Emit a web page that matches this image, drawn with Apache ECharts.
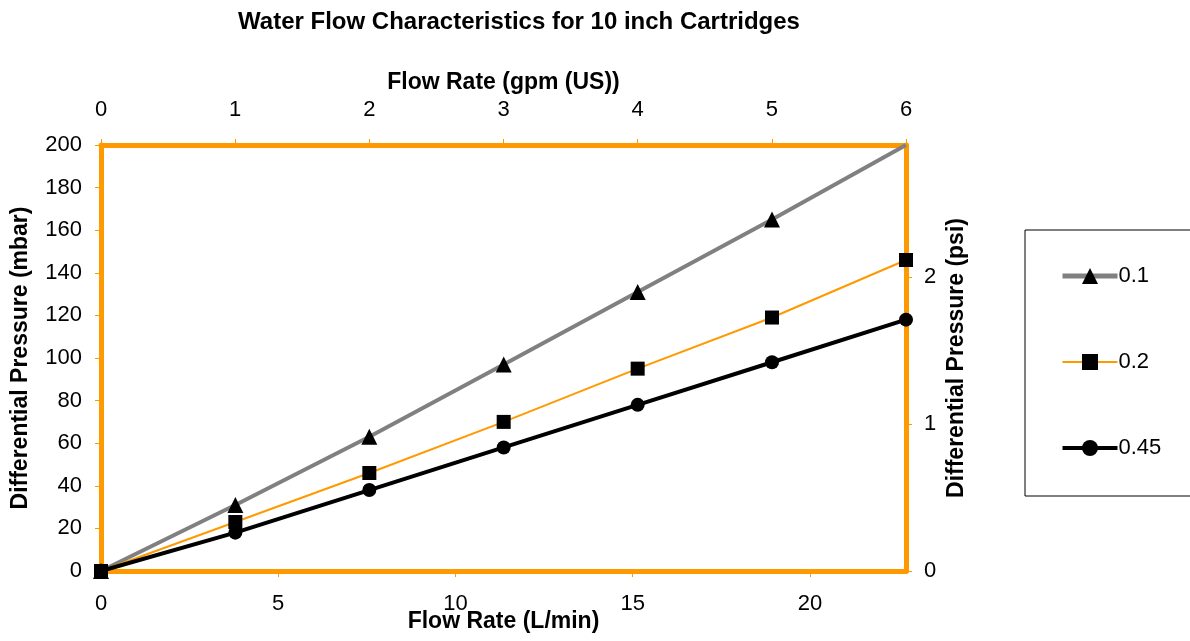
<!DOCTYPE html>
<html><head><meta charset="utf-8">
<script src="https://cdn.jsdelivr.net/npm/echarts@6/dist/echarts.min.js"></script>
<style>html,body{margin:0;padding:0;background:#fff}#c{width:1190px;height:641px}</style>
</head><body><div id="c"></div>
<script>
// Flow rate (L/min) for each measured point; 6 gpm (US) = 22.71 L/min
const flowLmin = [0, 3.79, 7.57, 11.36, 15.14, 18.93, 22.71];
const seriesNames = ['0.1', '0.2', '0.45'];
const dp01 = [0, 31, 63, 97, 131, 165, 200];
const dp02 = [0, 23, 46, 70, 95, 119, 146];
const dp045 = [0, 18, 38, 58, 78, 98, 118];
const LMIN_PER_GPM = 3.785;
const MBAR_PER_PSI = 68.948;
const xMaxLmin = 22.71;
const yMaxMbar = 200;

const ORANGE = '#FF9900';
const GRAY = '#808080';
const FONT = 'Liberation Sans, Arial, sans-serif';
const pairs = v => flowLmin.map((x, i) => [x, v[i]]);
// markers sitting exactly on the plot's top edge are clipped away (as in the original)
const markerSize = s => (val => (val[1] >= yMaxMbar ? 0 : s));

const axisCommon = {
  axisLine: {show: true, onZero: false, lineStyle: {color: ORANGE, width: 5}},
  axisTick: {show: true, inside: false, length: 6, lineStyle: {color: ORANGE, width: 1}},
  splitLine: {show: false},
  nameMoveOverlap: false,
  axisLabel: {color: '#000', fontSize: 22, fontFamily: FONT},
  nameTextStyle: {color: '#000', fontSize: 23, fontWeight: 'bold', fontFamily: FONT}
};

const chart = echarts.init(document.getElementById('c'), null, {renderer: 'canvas'});
chart.setOption({
  animation: false,
  backgroundColor: '#fff',
  title: {
    text: 'Water Flow Characteristics for 10 inch Cartridges',
    left: 514, top: 5, textAlign: 'center',
    textStyle: {fontSize: 24, fontWeight: 'bold', color: '#000', fontFamily: FONT}
  },
  grid: {left: 101, right: 284, top: 145, bottom: 70, containLabel: false, outerBoundsMode: 'none'},
  xAxis: [
    Object.assign({}, axisCommon, {
      type: 'value', position: 'bottom', min: 0, max: xMaxLmin, interval: 5,
      name: 'Flow Rate (L/min)', nameLocation: 'middle', nameGap: 39,
      axisLabel: Object.assign({}, axisCommon.axisLabel, {margin: 22, showMaxLabel: false})
    }),
    Object.assign({}, axisCommon, {
      type: 'value', position: 'top', min: 0, max: xMaxLmin / LMIN_PER_GPM, interval: 1,
      name: 'Flow Rate (gpm (US))', nameLocation: 'middle', nameGap: 51,
      axisLabel: Object.assign({}, axisCommon.axisLabel, {margin: 24, formatter: v => Math.round(v)})
    })
  ],
  yAxis: [
    Object.assign({}, axisCommon, {
      type: 'value', position: 'left', min: 0, max: yMaxMbar, interval: 20,
      name: 'Differential Pressure (mbar)', nameLocation: 'middle', nameGap: 69,
      axisLabel: Object.assign({}, axisCommon.axisLabel, {margin: 19})
    }),
    Object.assign({}, axisCommon, {
      type: 'value', position: 'right', min: 0, max: yMaxMbar / MBAR_PER_PSI, interval: 1,
      name: 'Differential Pressure (psi)', nameLocation: 'middle', nameGap: 39,
      axisLabel: Object.assign({}, axisCommon.axisLabel, {margin: 18, showMaxLabel: false})
    })
  ],
  legend: {
    orient: 'vertical', left: 1025, top: 230,
    padding: [35, 90, 37, 35],
    borderColor: '#000', borderWidth: 1,
    itemWidth: 55, itemHeight: 20, itemGap: 64,
    textStyle: {fontSize: 22, color: '#000', fontFamily: FONT, padding: [0, 0, 0, -4]},
    data: [
      {name: seriesNames[0], lineStyle: {color: GRAY, width: 5}},
      {name: seriesNames[1], lineStyle: {color: ORANGE, width: 2}},
      {name: seriesNames[2], lineStyle: {color: '#000', width: 4}}
    ]
  },
  series: [
    {name: seriesNames[0], type: 'line', data: pairs(dp01), xAxisIndex: 0, yAxisIndex: 0,
     symbol: 'triangle', symbolSize: markerSize(16), z: 3,
     lineStyle: {color: GRAY, width: 4}, itemStyle: {color: '#000'}},
    {name: seriesNames[1], type: 'line', data: pairs(dp02), xAxisIndex: 0, yAxisIndex: 0,
     symbol: 'rect', symbolSize: markerSize(14), z: 4,
     lineStyle: {color: ORANGE, width: 2}, itemStyle: {color: '#000'}},
    {name: seriesNames[2], type: 'line', data: pairs(dp045), xAxisIndex: 0, yAxisIndex: 0,
     symbol: 'circle', symbolSize: markerSize(14), z: 5,
     lineStyle: {color: '#000', width: 4}, itemStyle: {color: '#000'}}
  ]
});
</script></body></html>
